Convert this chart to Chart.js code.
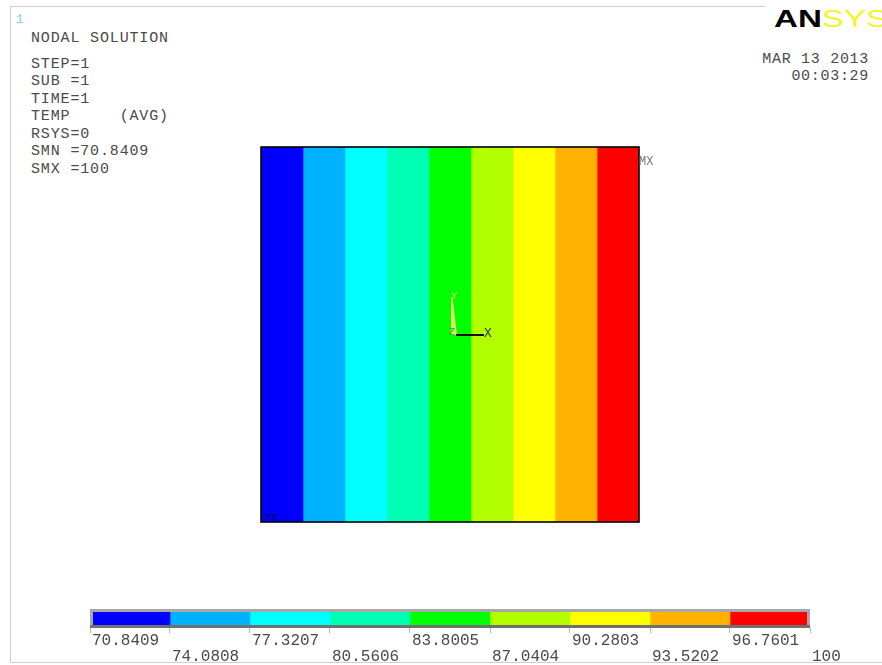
<!DOCTYPE html>
<html><head><meta charset="utf-8">
<script src="https://cdn.jsdelivr.net/npm/chart.js@4/dist/chart.umd.min.js"></script>
<style>
html,body{margin:0;padding:0;background:#fff;width:882px;height:665px;overflow:hidden;}
body{position:relative;}
.t{position:absolute;font-family:'Liberation Mono',monospace;font-size:15px;letter-spacing:0.85px;color:#4a4a4a;white-space:pre;line-height:17.5px;}
.ln{position:absolute;background:#cfcfcf;}
.cv{position:absolute;}
</style></head><body>
<div class="ln" style="left:10px;top:6px;width:755px;height:1px"></div>
<div class="ln" style="left:10px;top:6px;width:1px;height:657px"></div>
<div class="ln" style="left:10px;top:662px;width:872px;height:1px"></div>

<div class="t" style="left:16px;top:12px;font-size:12px;color:#6fd6e0;letter-spacing:0">1</div>
<div class="t" style="left:31px;top:29.5px">NODAL SOLUTION</div>
<div class="t" style="left:31px;top:55.5px">STEP=1
SUB =1
TIME=1
TEMP     (AVG)
RSYS=0
SMN =70.8409
SMX =100</div>

<div style="position:absolute;left:774px;top:4px;height:30px;white-space:nowrap;font-family:'Liberation Sans',Arial,sans-serif;font-weight:bold;font-size:24px;line-height:30px;transform:scaleX(1.38);transform-origin:left center;"><span style="color:#000">AN</span><span style="color:#f4f428;font-weight:normal">SYS</span></div>
<div class="t" style="right:13px;top:50.5px;text-align:right;letter-spacing:0.7px;line-height:17px">MAR 13 2013
00:03:29</div>

<div class="cv" style="left:257px;top:143px;width:386px;height:383px"><canvas id="main"></canvas></div>
<div class="cv" style="left:80px;top:600px;width:800px;height:65px"><canvas id="bar"></canvas></div>

<div class="t" style="left:639px;top:154px;font-size:12px;color:#777;letter-spacing:0">MX</div>
<div class="t" style="left:265px;top:509px;font-size:10px;color:#00007a;letter-spacing:0">MN</div>
<div class="t" style="left:451px;top:288px;font-size:11px;color:#c8e860;letter-spacing:0">Y</div>
<div class="t" style="left:449px;top:324px;font-size:10px;color:#3a9a3a;letter-spacing:0">Z</div>
<div class="t" style="left:484px;top:325px;font-size:13px;color:#333;letter-spacing:0">X</div>

<script>
// contour level boundaries (temperature), labels and colours
const bandBounds = [70.8409, 74.0808, 77.3207, 80.5606, 83.8005, 87.0404, 90.2803, 93.5202, 96.7601, 100];
const tickLabels = ['70.8409','74.0808','77.3207','80.5606','83.8005','87.0404','90.2803','93.5202','96.7601','100'];
const bandColors = ['#0000ff','#00b2ff','#00ffff','#00ffb2','#00ff00','#b2ff00','#ffff00','#ffb200','#ff0000'];
const rowLabel = ['TEMP'];

Chart.defaults.font.family = "'Liberation Mono', monospace";
Chart.defaults.animation = false;

function makeDatasets(){
  const ds = [];
  for (let i = 0; i < bandColors.length; i++) {
    ds.push({
      label: tickLabels[i],
      data: [[bandBounds[i], bandBounds[i+1]]],
      backgroundColor: bandColors[i],
      borderWidth: 0,
      barPercentage: 1,
      categoryPercentage: 1,
      grouped: false
    });
  }
  return ds;
}

const frameMain = {
  id: 'frameMain',
  afterDatasetsDraw(chart){
    const {ctx, chartArea: a} = chart;
    ctx.save();
    ctx.strokeStyle = '#000';
    ctx.lineWidth = 1.6;
    ctx.strokeRect(a.left, a.top, a.right - a.left, a.bottom - a.top);
    // triad
    const cx = (a.left + a.right) / 2 + 3, cy = (a.top + a.bottom) / 2 + 0.5;
    ctx.fillStyle = '#d8f060';
    ctx.beginPath();
    ctx.moveTo(cx - 2, cy - 38);
    ctx.lineTo(cx - 0.5, cy - 38);
    ctx.lineTo(cx + 4, cy);
    ctx.lineTo(cx - 2, cy);
    ctx.closePath();
    ctx.fill();
    ctx.strokeStyle = '#111';
    ctx.lineWidth = 2;
    ctx.beginPath();
    ctx.moveTo(cx + 3, cy);
    ctx.lineTo(cx + 31, cy);
    ctx.stroke();
    ctx.restore();
  }
};

new Chart(document.getElementById('main'), {
  type: 'bar',
  data: { labels: rowLabel, datasets: makeDatasets() },
  options: {
    indexAxis: 'y',
    responsive: true,
    maintainAspectRatio: false,
    layout: { padding: { left: 4, right: 4, top: 4, bottom: 4 } },
    plugins: { legend: { display: false }, tooltip: { enabled: false } },
    scales: {
      x: { type: 'linear', min: bandBounds[0], max: bandBounds[bandBounds.length-1], display: false },
      y: { display: false }
    }
  },
  plugins: [frameMain]
});

const frameBar = {
  id: 'frameBar',
  afterDatasetsDraw(chart){
    const {ctx, chartArea: a} = chart;
    ctx.save();
    ctx.lineWidth = 3;
    ctx.strokeStyle = '#a8a8a8';
    ctx.strokeRect(a.left + 1.5, a.top + 1.5, a.right - a.left - 3, a.bottom - a.top - 3);
    ctx.strokeStyle = '#707070';
    ctx.beginPath();
    ctx.moveTo(a.left, a.bottom - 1.5);
    ctx.lineTo(a.right, a.bottom - 1.5);
    ctx.stroke();
    ctx.restore();
  }
};

new Chart(document.getElementById('bar'), {
  type: 'bar',
  data: { labels: rowLabel, datasets: makeDatasets() },
  options: {
    indexAxis: 'y',
    responsive: true,
    maintainAspectRatio: false,
    layout: { padding: { left: 10, right: 70, top: 9, bottom: 0 } },
    plugins: { legend: { display: false }, tooltip: { enabled: false } },
    scales: {
      x: {
        type: 'linear',
        min: bandBounds[0],
        max: bandBounds[bandBounds.length-1],
        afterBuildTicks(scale){ scale.ticks = bandBounds.map(v => ({ value: v })); },
        afterFit(scale){ scale.height = 37; },
        border: { display: false },
        grid: { drawOnChartArea: false, drawTicks: true, tickLength: 5, color: '#bbbbbb', tickColor: '#bbbbbb' },
        ticks: {
          autoSkip: false,
          maxRotation: 0,
          align: 'start',
          labelOffset: 2,
          padding: 0,
          color: '#4a4a4a',
          font: { size: 16, lineHeight: 1.0 },
          callback(value, index){ return index % 2 === 0 ? [tickLabels[index], ''] : ['', tickLabels[index]]; }
        }
      },
      y: { display: false }
    }
  },
  plugins: [frameBar]
});
</script>
</body></html>
